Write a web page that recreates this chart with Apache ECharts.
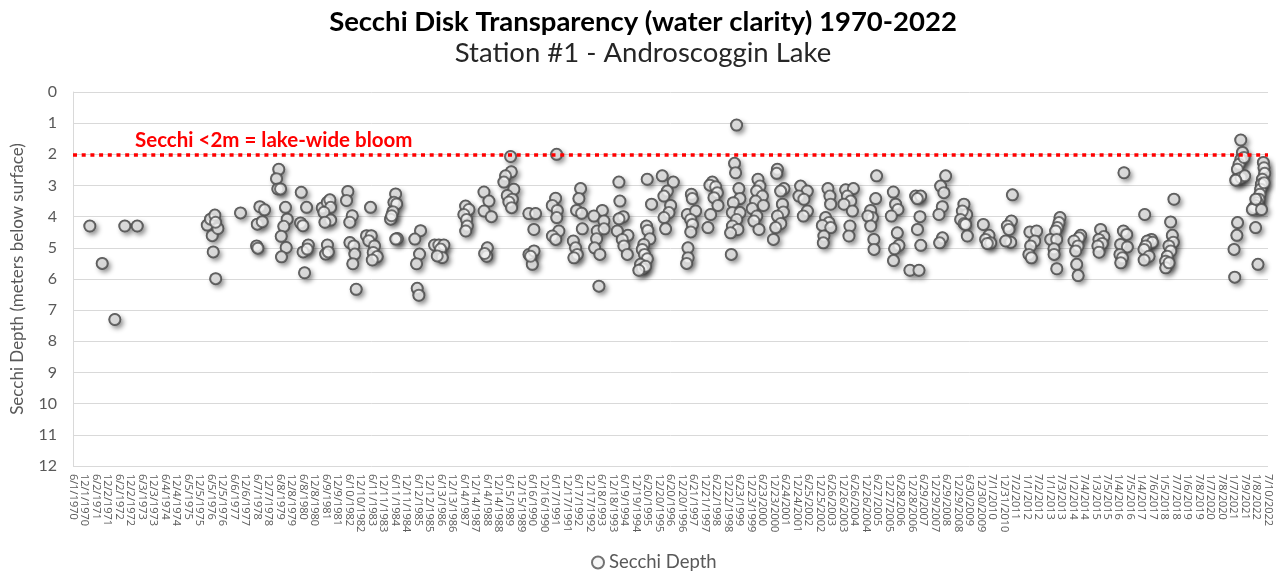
<!DOCTYPE html>
<html><head><meta charset="utf-8">
<script src="https://cdn.jsdelivr.net/npm/echarts@6/dist/echarts.min.js"></script>
<style>html,body{margin:0;padding:0;background:#fff}#c{width:1276px;height:571px}</style>
</head><body><div id="c"></div>
<script>
// ---- data ----
const titleText = 'Secchi Disk Transparency (water clarity) 1970-2022';
const subtitleText = 'Station #1 - Androscoggin Lake';
const yAxisName = 'Secchi Depth (meters below surface)';
const seriesName = 'Secchi Depth';
const bloomLabel = 'Secchi <2m = lake-wide bloom';
const bloomThreshold = 2;
const axisStartDate = '1970-06-01';
const tickDays = 183;
const tickCount = 104;
const yTicks = [0, 12, 1]; // min, max, step

const sampleDates = [
'1971-02-24','1971-09-09','1972-03-28','1972-09-03','1973-03-20',
'1976-04-08','1976-05-30','1976-08-07','1976-06-26','1976-09-24','1976-08-18','1976-07-12','1976-08-20',
'1977-09-20',
'1978-07-25','1978-10-08','1978-06-14','1978-09-01','1978-06-03','1978-06-23',
'1979-05-22','1979-04-16','1979-05-07','1979-06-19','1979-09-06','1979-10-03','1979-08-10','1979-06-30','1979-09-17','1979-07-04',
'1980-05-14','1980-08-07','1980-05-03','1980-06-09','1980-09-03','1980-06-12','1980-08-18','1980-07-06',
'1981-04-14','1981-07-03','1981-08-13','1981-08-24','1981-05-10','1981-08-26','1981-05-26','1981-07-05','1981-06-06','1981-07-19',
'1982-05-26','1982-05-05','1982-08-04','1982-06-26','1982-06-28','1982-08-29','1982-09-14','1982-08-13','1982-10-06',
'1983-05-22','1983-03-20','1983-06-03','1983-04-25','1983-07-25','1983-07-04','1983-09-06','1983-06-19',
'1984-06-25','1984-05-29','1984-07-11','1984-05-13','1984-04-06','1984-04-22','1984-07-22','1984-06-27',
'1985-07-27','1985-04-27','1985-07-11','1985-05-24','1985-06-04','1985-06-30',
'1986-03-07','1986-05-14','1986-08-02','1986-06-11','1986-07-08','1986-04-19',
'1987-07-14','1987-09-05','1987-06-17','1987-07-30','1987-08-10','1987-07-16',
'1988-05-02','1988-07-20','1988-05-04','1988-08-28','1988-06-25','1988-06-14','1988-05-13',
'1989-06-30','1989-07-11','1989-04-11','1989-03-15','1989-08-21','1989-05-08','1989-07-27','1989-06-03','1989-07-16',
'1990-04-17','1990-08-02','1990-07-06','1990-04-19','1990-07-08','1990-06-11','1990-05-14',
'1991-07-03','1991-06-17','1991-04-25','1991-07-14','1991-07-05','1991-08-08','1991-04-27','1991-06-19',
'1992-07-19','1992-06-22','1992-05-16','1992-08-04','1992-08-15','1992-03-25','1992-04-30','1992-05-27','1992-04-03',
'1993-06-30','1993-02-16','1993-07-25','1993-04-11','1993-07-27','1993-03-31','1993-02-27','1993-05-22','1993-05-07',
'1994-03-21','1994-04-06','1994-05-30','1994-03-23','1994-02-24','1994-08-12','1994-05-14','1994-06-09','1994-08-02',
'1995-06-15','1995-08-23','1995-06-04','1995-06-25','1995-07-27','1995-04-22','1995-03-28','1995-05-03','1995-06-17','1995-03-01','1995-03-30','1995-05-19','1995-02-02',
'1996-02-09','1996-08-04','1996-04-30','1996-03-07','1996-06-22','1996-05-26','1996-03-09','1996-04-03',
'1997-05-18','1997-06-02','1997-03-15','1997-07-25','1997-05-07','1997-06-04','1997-05-09','1997-03-25','1997-03-27','1997-03-04',
'1998-04-17','1998-03-10','1998-06-09','1998-07-06','1998-05-13','1998-07-16','1998-03-21','1998-02-06',
'1999-05-08','1999-04-06','1999-04-22','1999-06-14','1999-06-30','1999-03-17','1999-03-01','1999-07-02','1999-05-10','1999-03-03','1999-05-29','1999-02-02','1999-02-13',
'2000-04-13','2000-05-14','2000-03-23','2000-06-22','2000-03-07','2000-07-08','2000-01-13','2000-03-25','2000-02-08','2000-04-29',
'2001-02-16','2001-02-05','2001-06-01','2001-04-09','2001-05-07','2001-05-22','2001-02-18','2001-04-11','2001-01-20','2000-12-15',
'2002-02-21','2002-06-07','2002-01-25','2002-04-14','2002-06-09','2002-04-05',
'2003-05-02','2003-06-03','2003-06-14','2003-03-26','2003-05-18','2003-02-02','2003-06-16','2003-02-27','2003-02-17',
'2004-02-08','2004-06-11','2004-03-07','2004-04-29','2004-01-12','2004-05-26','2004-04-17','2004-04-01',
'2005-06-15','2005-06-01','2005-03-12','2005-04-08','2005-01-28','2005-03-14','2005-05-03','2005-05-05',
'2006-03-09','2006-04-14','2006-05-21','2006-02-05','2006-05-11','2006-06-06','2006-03-29','2006-03-11',
'2007-02-27','2007-05-18','2007-03-26','2007-05-07','2007-03-28','2007-05-20','2006-11-28','2007-04-21',
'2008-06-19','2008-03-31','2008-05-22','2008-04-27','2008-03-04','2008-04-29','2008-03-15',
'2009-04-06','2009-05-19','2009-03-12','2009-02-13','2009-04-08','2009-05-03','2009-05-30',
'2010-02-09','2010-05-10','2010-03-18','2010-06-06','2010-04-14',
'2011-05-18','2011-05-02','2011-02-27','2011-03-25','2011-04-21','2011-01-31',
'2012-02-21','2012-06-07','2012-05-07','2012-03-04','2012-02-05','2012-03-15',
'2013-06-14','2013-05-29','2013-05-03','2013-04-06','2013-01-17','2013-04-22','2013-03-10','2013-03-12','2013-04-24',
'2014-05-10','2014-04-13','2014-01-23','2014-03-28','2014-02-19','2014-03-07','2014-03-30',
'2015-03-23','2015-05-14','2015-02-24','2015-04-19','2015-02-08','2015-02-26',
'2016-03-29','2016-03-20','2016-05-11','2016-02-05','2016-05-22','2016-01-25','2016-03-04','2016-02-07',
'2017-02-22','2017-06-09','2017-04-06','2017-06-25','2017-03-10','2017-02-11','2017-05-02','2017-02-13',
'2018-06-03','2018-04-11','2018-05-08','2018-05-24','2018-03-15','2018-04-13','2018-02-17','2018-01-21','2018-01-23','2018-03-17',
'2021-05-02','2021-05-29','2021-05-04','2021-04-05','2021-03-10','2021-02-27','2021-05-06','2021-07-04','2021-02-11','2021-06-23','2021-03-12','2021-03-01','2021-01-15','2021-01-26',
'2022-04-27','2022-05-07','2022-05-18','2022-04-11','2022-03-26','2022-03-15','2022-03-04','2022-02-16','2022-01-21','2021-12-26','2021-11-28','2021-11-03','2022-03-28','2021-12-28','2022-05-09','2021-12-24','2022-01-31'
];

const secchiDepth = [
4.3,5.5,7.3,4.3,4.3,
4.27,4.08,3.95,4.61,4.38,4.18,5.13,5.99,
3.88,
3.68,3.78,4.24,4.16,4.94,5.01,
2.48,2.78,3.11,3.11,3.70,4.08,4.31,4.63,4.99,5.29,
3.22,3.70,4.20,4.29,4.91,5.13,5.04,5.80,
3.72,3.54,3.46,3.70,3.86,4.11,4.18,4.91,5.20,5.13,
3.19,3.48,3.97,4.18,4.83,4.94,5.20,5.51,6.33,
3.70,4.61,4.61,4.77,4.94,5.15,5.28,5.39,
3.27,3.54,3.59,3.84,4.08,3.97,4.70,4.72,
4.45,4.72,5.20,5.51,6.30,6.52,
4.91,4.91,4.91,5.04,5.31,5.26,
3.66,3.77,3.93,4.09,4.30,4.46,
3.21,3.50,3.82,4.00,5.00,5.27,5.18,
2.07,2.56,2.69,2.89,3.12,3.32,3.44,3.53,3.71,
3.90,3.90,4.41,5.21,5.10,5.53,5.27,
2.00,3.41,3.64,3.80,4.03,4.46,4.62,4.73,
3.10,3.42,3.80,3.89,4.39,4.78,5.00,5.21,5.32,
3.80,3.98,4.14,4.46,4.39,4.71,5.00,5.21,6.23,
2.89,3.50,4.00,4.07,4.46,4.60,4.73,4.94,5.21,
2.80,3.60,4.30,4.44,4.71,4.89,5.05,5.21,5.35,5.53,5.67,5.59,5.72,
2.69,2.89,3.18,3.34,3.64,3.87,4.03,4.39,
3.28,3.42,3.93,3.82,4.09,4.25,4.49,5.00,5.32,5.50,
2.89,2.99,3.04,3.23,3.39,3.64,3.93,4.35,
1.06,2.29,2.59,3.10,3.42,3.55,3.87,3.87,4.09,4.30,4.41,4.52,5.21,
2.80,3.02,3.18,3.34,3.50,3.64,3.74,3.98,4.14,4.41,
2.48,2.61,3.10,3.18,3.60,3.85,3.98,4.22,4.35,4.73,
3.02,3.18,3.34,3.44,3.82,3.98,
3.10,3.34,3.60,4.03,4.19,4.28,4.35,4.62,4.84,
3.14,3.10,3.34,3.50,3.60,3.82,4.30,4.62,
2.69,3.42,3.80,4.03,3.98,4.30,4.73,5.05,
3.21,3.60,3.77,3.98,4.52,4.92,5.03,5.41,
3.34,3.34,3.42,4.00,4.41,4.92,5.72,5.72,
2.69,3.02,3.23,3.68,3.93,4.68,4.84,
3.60,3.93,3.82,4.09,4.22,4.25,4.62,
4.25,4.60,4.73,4.84,4.86,
3.30,4.14,4.30,4.41,4.82,4.78,
4.49,4.46,4.78,4.94,5.21,5.32,
4.03,4.19,4.35,4.46,4.73,4.73,5.03,5.21,5.67,
4.60,4.68,4.78,4.94,5.10,5.53,5.89,
4.41,4.64,4.73,4.86,4.94,5.14,
2.59,4.46,4.57,4.89,4.97,5.21,5.32,5.48,
3.93,4.73,4.78,4.82,4.94,5.05,5.27,5.39,
3.44,4.17,4.60,4.82,4.94,5.10,5.27,5.43,5.64,5.48,
1.54,1.94,2.16,2.32,2.48,2.80,2.75,2.69,2.83,2.10,4.19,4.60,5.05,5.94,
2.26,2.43,2.61,2.80,2.96,3.12,3.28,3.44,3.55,3.64,3.71,3.77,3.77,3.44,2.91,4.35,5.53
];

// ---- chart ----
const DAY = 86400000;
const BASE = Date.parse(axisStartDate);
const toDays = s => (Date.parse(s) - BASE) / DAY;
const fmtDate = v => { const d = new Date(BASE + v * DAY); return (d.getUTCMonth() + 1) + '/' + d.getUTCDate() + '/' + d.getUTCFullYear(); };
const points = sampleDates.map((s, i) => [toDays(s), secchiDepth[i]]);

const FONT = 'Lato, "Noto Sans", sans-serif';
const gray = '#595959';
const chart = echarts.init(document.getElementById('c'), null, { renderer: 'canvas' });
chart.setOption({
  animation: false,
  backgroundColor: '#ffffff',
  textStyle: { fontFamily: FONT },
  grid: { left: 73, right: 8, top: 92, bottom: 105, containLabel: false },
  xAxis: {
    type: 'value', min: 0, max: tickDays * tickCount, interval: tickDays,
    axisLine: { show: false },
    axisTick: { show: false },
    splitLine: { show: false },
    axisLabel: { rotate: -90, fontSize: 11, color: gray, fontFamily: '"Open Sans", sans-serif', margin: 8,
      showMinLabel: true, showMaxLabel: true, hideOverlap: false, formatter: fmtDate }
  },
  yAxis: {
    type: 'value', inverse: true, min: yTicks[0], max: yTicks[1], interval: yTicks[2],
    name: yAxisName, nameLocation: 'middle', nameGap: 47,
    nameTextStyle: { fontSize: 17, color: gray, fontFamily: FONT },
    axisLine: { show: true, lineStyle: { color: '#d9d9d9', width: 1 } },
    axisTick: { show: false },
    splitLine: { show: true, lineStyle: { color: '#d9d9d9', width: 1 } },
    axisLabel: { fontSize: 16, color: gray, fontFamily: FONT, margin: 16 }
  },
  legend: {
    data: [seriesName], left: 586, top: 548, icon: 'circle', itemWidth: 12, itemHeight: 12, itemGap: 5,
    textStyle: { fontSize: 18.5, color: gray, fontFamily: FONT }
  },
  series: [{
    name: 'shadow', type: 'scatter', data: points, symbol: 'circle', symbolSize: 12.5, silent: true,
    itemStyle: { color: '#595959', borderWidth: 0,
      shadowColor: 'rgba(0,0,0,0.55)', shadowBlur: 5, shadowOffsetX: 2.5, shadowOffsetY: 3 },
    markLine: {
      silent: true, symbol: ['none', 'none'], label: { show: false },
      lineStyle: { color: '#ff0000', width: 3.5, type: [4, 4.7] },
      data: [{ yAxis: bloomThreshold }]
    },
    z: 2
  }, {
    name: seriesName, type: 'scatter', data: points, symbol: 'circle', symbolSize: 11,
    itemStyle: { color: '#f4f4f4', borderColor: '#505050', borderWidth: 2 },
    z: 3
  }],
  graphic: [
    { type: 'text', x: 643, y: 22, style: { text: titleText, textAlign: 'center', textVerticalAlign: 'middle',
      font: 'bold 27.5px ' + FONT, fill: '#000000' } },
    { type: 'text', x: 643, y: 53, style: { text: subtitleText, textAlign: 'center', textVerticalAlign: 'middle',
      font: '27.5px ' + FONT, fill: '#262626' } },
    { type: 'text', x: 135, y: 140, z: 10, style: { text: bloomLabel, textAlign: 'left', textVerticalAlign: 'middle',
      font: 'bold 20.5px ' + FONT, fill: '#ff0000' } }
  ]
});
</script>
</body></html>
